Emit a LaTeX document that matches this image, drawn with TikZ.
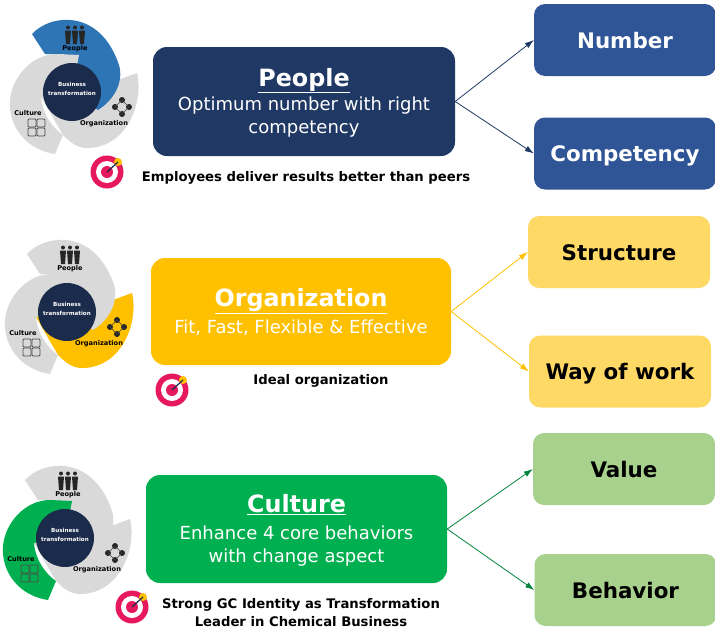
\documentclass[tikz,border=0pt]{standalone}
\usepackage{fontspec}
\setmainfont{DejaVu Sans}
\usetikzlibrary{arrows.meta}

\definecolor{navy}{HTML}{1F3864}
\definecolor{midblue}{HTML}{2F5597}
\definecolor{swirlblue}{HTML}{2E75B6}
\definecolor{gold}{HTML}{FFC000}
\definecolor{lightgold}{HTML}{FFD966}
\definecolor{leaf}{HTML}{00B050}
\definecolor{lightleaf}{HTML}{A9D18E}
\definecolor{swirlgray}{HTML}{D9D9D9}
\definecolor{hubblue}{HTML}{1B2B4B}
\definecolor{targetred}{HTML}{E5195B}

\tikzset{
    mainbox/.style={rounded corners=14pt, inner sep=0pt, align=center, text=white,
        minimum width=#1, font=\fontsize{18}{23}\selectfont},
    subbox/.style={rounded corners=11pt, inner sep=0pt, minimum width=182pt,
        minimum height=72pt, text height=16.5pt, text depth=0pt,
        font=\fontsize{21.4}{26}\selectfont\bfseries},
    swirllabel/.style={inner sep=0pt, font=\fontsize{6.6}{8}\selectfont\bfseries},
    hublabel/.style={inner sep=0pt, align=center, text=white,
        font=\fontsize{5.6}{9}\selectfont\bfseries},
    goaltext/.style={inner sep=0pt, align=center, font=\fontsize{13.2}{18}\selectfont\bfseries},
    link/.style={-{Latex[length=9pt,width=6pt]}, line width=.8pt},
}
\newcommand{\boxhead}[1]{{\fontsize{23.8}{28}\selectfont\bfseries\rule{0pt}{20pt}\underline{#1}}}

% #1 name, #2 centre, #3 people, #4 organization, #5 culture
\newcommand{\swirl}[5]{
    \begin{scope}[shift={#2}]
        \fill[#4] (65,-19) .. controls (72,10) and (55,56) .. (15,56)
            .. controls (5,56) and (-2,50) .. (-9,43) -- (-31,5) -- (0,0)
            -- (46,-12) -- cycle;
        \fill[#3] (-40,-58) .. controls (-22,-78) and (28,-84) .. (47,-27)
            .. controls (52,-10) and (42,8) .. (26,18) -- (0,0) -- (-8,-38)
            -- (-27,-38) -- cycle;
        \fill[#5] (-17,62) .. controls (-45,58) and (-64,35) .. (-62,8)
            .. controls (-60,-15) and (-40,-38) .. (-15,-38) -- (7,-37) -- (0,0) -- (-31,5)
            .. controls (-30,20) and (-20,36) .. (-9,43) -- cycle;
        \node[circle, fill=hubblue, minimum size=58pt, inner sep=0pt] (#1hub) at (0,0) {};
        \node[hublabel] (#1title) at (0,-3.5) {Business\\transformation};
        \node[swirllabel] (#1people) at (3,-43) {People};
        \node[swirllabel] (#1org) at (32,32) {Organization};
        \node[swirllabel] (#1culture) at (-44,21) {Culture};
        % people icon
        \foreach \dx in {-4,3,10} {
            \fill[black!85] (\dx,-64.5) circle (2pt);
            \fill[black!85] (\dx-3,-61.5) -- (\dx+3,-61.5) -- (\dx+2,-48) -- (\dx-2,-48) -- cycle;
        }
        % organization icon
        \foreach \dx/\dy in {50/8, 43/15, 57/15, 50/22} {
            \fill[black!85] (\dx,\dy) circle (3pt);
        }
        \draw[black!75, line width=.5pt] (43,15) -- (50,8) -- (57,15) -- (50,22) -- cycle;
        % culture icon
        \foreach \dx/\dy in {-40/31, -31/31, -40/40, -31/40} {
            \draw[black!70, line width=.8pt, rounded corners=1pt]
                (\dx-4,\dy-4) rectangle (\dx+4,\dy+4);
        }
    \end{scope}
}

% #1 name, #2 centre
\newcommand{\goal}[2]{
    \node[circle, fill=targetred, minimum size=33pt, inner sep=0pt] (#1) at #2 {};
    \node[circle, fill=white, minimum size=22pt, inner sep=0pt] (#1a) at #2 {};
    \node[circle, fill=targetred, minimum size=12pt, inner sep=0pt] (#1b) at #2 {};
    \node[circle, fill=gold, minimum size=8pt, inner sep=0pt, xshift=11pt, yshift=10pt] (#1star) at #2 {};
    \draw[hubblue, line width=1.2pt] (#1b.center) -- (#1star.center);
}

\begin{document}
\begin{tikzpicture}[x=1pt, y=-1pt]
    \useasboundingbox (0,0) rectangle (715,632);

    % top row
    \swirl{p}{(72,92)}{swirlblue}{swirlgray}{swirlgray}
    \node[mainbox=302pt, minimum height=109pt, fill=navy] (People) at (304,101.5)
        {\boxhead{People}\\[1pt] Optimum number with right\\ competency};
    \node[subbox, fill=midblue, text=white] (Number) at (625,40) {Number};
    \node[subbox, fill=midblue, text=white] (Competency) at (625,153.5) {Competency};
    \goal{pgoal}{(107,172)}
    \node[goaltext] (pnote) at (306,178) {Employees deliver results better than peers};
    \draw[link, navy] (People.east) -- (Number.west);
    \draw[link, navy] (People.east) -- (Competency.west);

    % middle row
    \swirl{o}{(67,312)}{swirlgray}{gold}{swirlgray}
    \node[mainbox=300pt, minimum height=107pt, fill=gold] (Organization) at (301,311.5)
        {\boxhead{Organization}\\[4pt] Fit, Fast, Flexible \& Effective};
    \node[subbox, fill=lightgold] (Structure) at (619,252) {Structure};
    \node[subbox, fill=lightgold] (Way) at (620,371.5) {Way of work};
    \goal{ogoal}{(172,390)}
    \node[goaltext] (onote) at (321,381) {Ideal organization};
    \draw[link, gold] (Organization.east) -- (Structure.west);
    \draw[link, gold] (Organization.east) -- (Way.west);

    % bottom row
    \swirl{c}{(65,538)}{swirlgray}{swirlgray}{leaf}
    \node[mainbox=301pt, minimum height=108pt, fill=leaf] (Culture) at (296.5,529)
        {\boxhead{Culture}\\[4pt] Enhance 4 core behaviors\\ with change aspect};
    \node[subbox, fill=lightleaf] (Value) at (624,469) {Value};
    \node[subbox, fill=lightleaf] (Behavior) at (625.5,590) {Behavior};
    \goal{cgoal}{(132,607)}
    \node[goaltext] (cnote) at (301,613) {Strong GC Identity as Transformation\\Leader in Chemical Business};
    \draw[link, leaf!75!black] (Culture.east) -- (Value.west);
    \draw[link, leaf!75!black] (Culture.east) -- (Behavior.west);
\end{tikzpicture}
\end{document}
